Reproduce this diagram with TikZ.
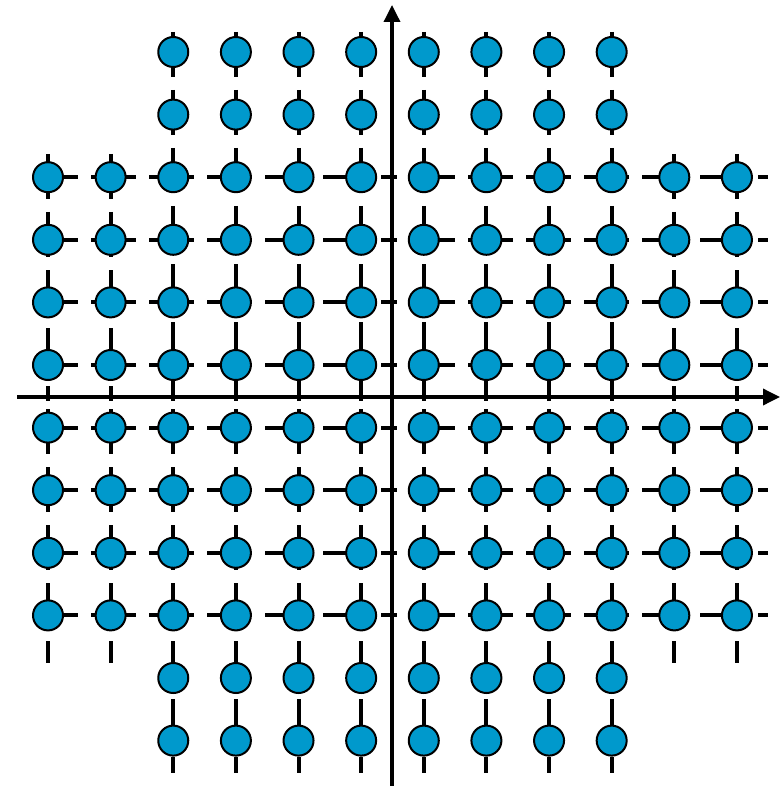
\documentclass[tikz,border=0pt]{standalone}
\usetikzlibrary{arrows.meta}
\definecolor{dotblue}{RGB}{0,153,204}
\begin{document}
\begin{tikzpicture}[x=1pt,y=-1pt,
  dot/.style={circle,draw=black,line width=2pt,fill=dotblue,minimum size=30pt,inner sep=0pt},
  gridline/.style={line width=4pt,dash pattern=on 45pt off 13pt},
  axis/.style={line width=3.5pt,-{Triangle[length=17pt,width=16pt]}}]
\useasboundingbox (0,0) rectangle (780,786);
% vertical dashed lines (split at the horizontal axis)
\foreach \i in {1,...,12}{
  \pgfmathsetmacro{\cx}{48+62.63*(\i-1)}
  \pgfmathsetmacro{\ytop}{(\i<3 || \i>10) ? 154 : 32}
  \pgfmathsetmacro{\ybot}{(\i<3 || \i>10) ? 663 : 773}
  \coordinate (vta\i) at (\cx,\ytop);
  \coordinate (vtb\i) at (\cx,401);
  \coordinate (vba\i) at (\cx,409);
  \coordinate (vbb\i) at (\cx,\ybot);
  \draw[gridline] (vta\i) -- (vtb\i);
  \draw[gridline] (vba\i) -- (vbb\i);
}
% horizontal dashed lines (split at the vertical axis)
\foreach \j in {3,...,10}{
  \pgfmathsetmacro{\cy}{52+62.6*(\j-1)}
  \coordinate (hla\j) at (33,\cy);
  \coordinate (hlb\j) at (397,\cy);
  \coordinate (hra\j) at (410,\cy);
  \coordinate (hrb\j) at (768,\cy);
  \draw[gridline] (hla\j) -- (hlb\j);
  \draw[gridline] (hra\j) -- (hrb\j);
}
% axes
\coordinate (xa0) at (17,397);
\coordinate (xa1) at (780,397);
\coordinate (ya0) at (392,786);
\coordinate (ya1) at (392,5);
\draw[axis] (xa0) -- (xa1);
\draw[axis] (ya0) -- (ya1);
% dots
\foreach \j in {1,...,12}{
  \foreach \i in {1,...,12}{
    \pgfmathtruncatemacro{\showdot}{((\i>2 && \i<11) || (\j>2 && \j<11)) ? 1 : 0}
    \ifnum\showdot=1
      \node[dot] (d\i-\j) at ({48+62.63*(\i-1)},{52+62.6*(\j-1)}) {};
    \fi
  }
}
\end{tikzpicture}
\end{document}
